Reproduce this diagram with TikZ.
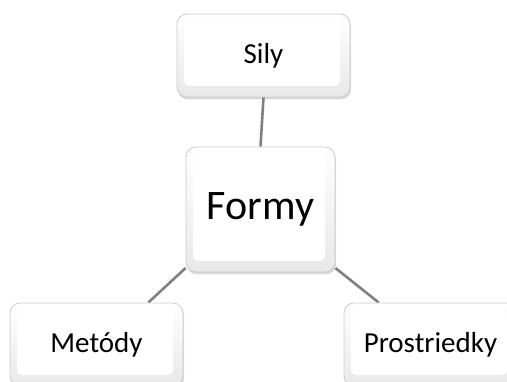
\documentclass[tikz,border=0pt]{standalone}
\usepackage{fontspec}
\setmainfont{Carlito}
\usetikzlibrary{shadows,backgrounds}
\tikzset{
  box/.style={rounded corners=10pt, draw=gray!40, line width=0.8pt,
    top color=white, bottom color=gray!18,
    drop shadow={opacity=0.3, shadow xshift=1pt, shadow yshift=-2.5pt},
    path picture={\fill[white, rounded corners=5pt]
      ([xshift=7pt,yshift=-6pt]path picture bounding box.north west) rectangle
      ([xshift=-10pt,yshift=11pt]path picture bounding box.south east);},
    font=\fontsize{29}{34}\selectfont, inner sep=0pt},
  link/.style={draw=gray, line width=2.6pt}
}
\begin{document}
\begin{tikzpicture}[x=1pt,y=1pt]
\useasboundingbox (0,0) rectangle (507,381);
\clip (0,0) rectangle (507,381);
\node[box, minimum width=173pt, minimum height=83pt] (sily) at (263.5,325.5) {Sily};
\node[box, minimum width=149pt, minimum height=125pt, font=\fontsize{42}{48}\selectfont] (formy) at (260.5,171.5) {Formy};
\node[box, minimum width=173pt, minimum height=83pt] (metody) at (96.5,36.5) {Metódy};
\node[box, minimum width=173pt, minimum height=83pt] (prost) at (430.5,36.5) {Prostriedky};
\begin{scope}[on background layer]
\draw[link] (sily.south) -- (formy.north);
\draw[link] (formy.218.5) -- (metody.39.4);
\draw[link] (formy.-38.9) -- (prost.141.7);
\end{scope}
\end{tikzpicture}
\end{document}
